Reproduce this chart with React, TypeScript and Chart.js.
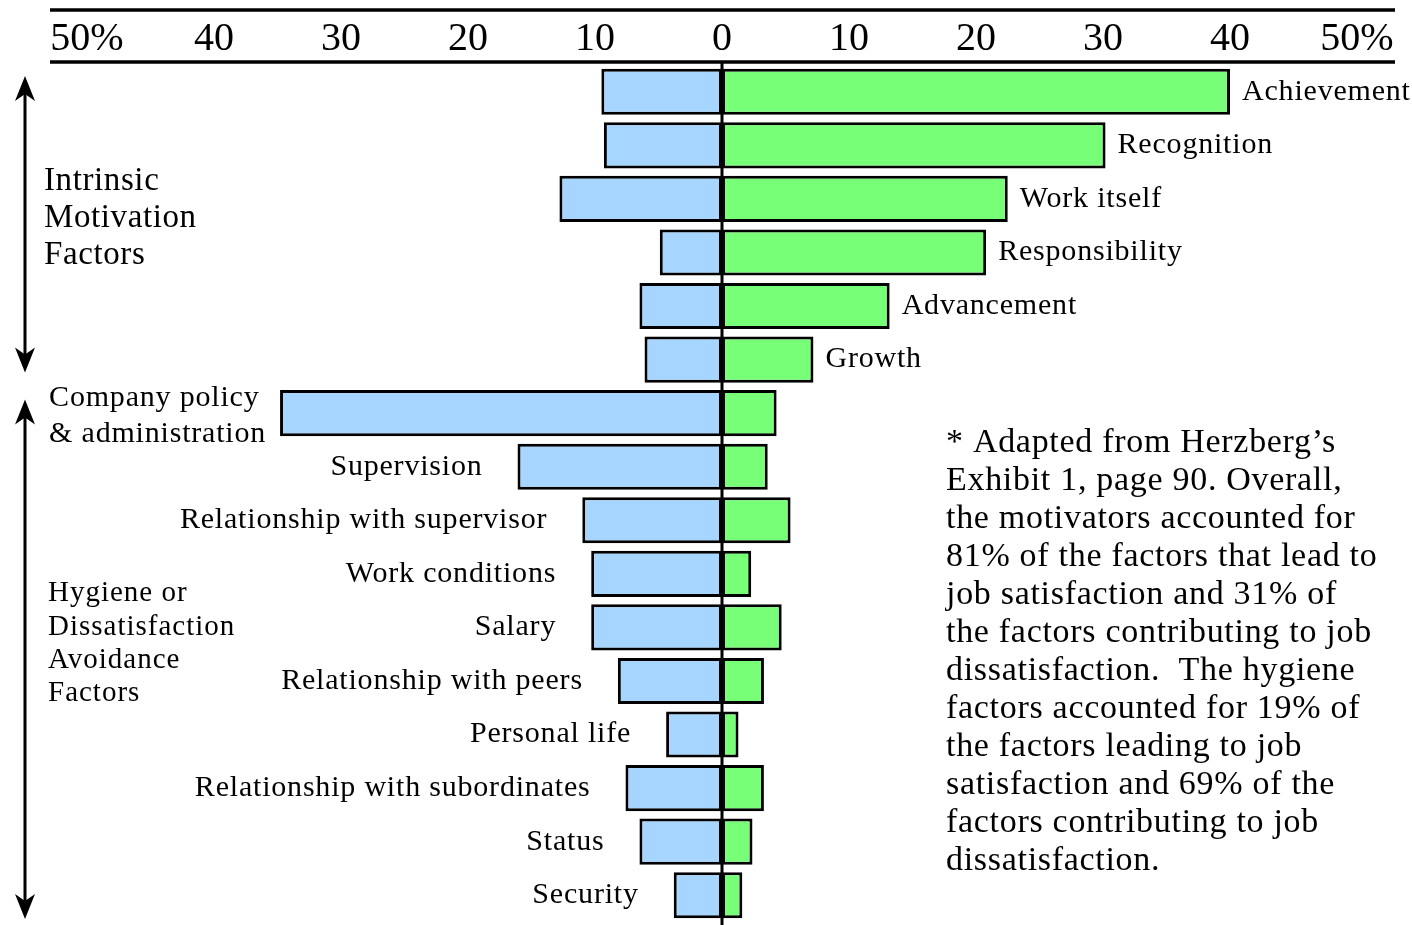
import React, { useEffect, useRef } from 'react';
import { Chart, registerables } from 'chart.js';

Chart.register(...registerables);

// ---------- data ----------
const categories: string[] = [
  'Achievement',
  'Recognition',
  'Work itself',
  'Responsibility',
  'Advancement',
  'Growth',
  'Company policy\n& administration',
  'Supervision',
  'Relationship with supervisor',
  'Work conditions',
  'Salary',
  'Relationship with peers',
  'Personal life',
  'Relationship with subordinates',
  'Status',
  'Security',
];

// % of factors leading to extreme dissatisfaction (drawn to the left)
const dissatisfaction: number[] = [9.5, 9.3, 12.8, 4.9, 6.5, 6.1, 34.8, 16.1, 11.0, 10.3, 10.3, 8.2, 4.4, 7.6, 6.5, 3.8];
// % of factors leading to extreme satisfaction (drawn to the right)
const satisfaction: number[] = [40.0, 30.2, 22.5, 20.8, 13.2, 7.2, 4.3, 3.6, 5.4, 2.3, 4.7, 3.3, 1.3, 3.3, 2.4, 1.6];

const motivatorCount = 6;
const intrinsicGroupLabel: string[] = ['Intrinsic', 'Motivation', 'Factors'];
const hygieneGroupLabel: string[] = ['Hygiene or', 'Dissatisfaction', 'Avoidance', 'Factors'];

const footnoteLines: string[] = [
  '* Adapted from Herzberg\u2019s',
  'Exhibit 1, page 90. Overall,',
  'the motivators accounted for',
  '81% of the factors that lead to',
  'job satisfaction and 31% of',
  'the factors contributing to job',
  'dissatisfaction.  The hygiene',
  'factors accounted for 19% of',
  'the factors leading to job',
  'satisfaction and 69% of the',
  'factors contributing to job',
  'dissatisfaction.',
];

const axisMin = -50;
const axisMax = 50;
const axisStep = 10;

// ---------- styling ----------
const SERIF = '"Liberation Serif", "Times New Roman", Times, serif';
const BLUE = '#A6D5FF';
const GREEN = '#77FF77';

function setFont(ctx: CanvasRenderingContext2D, size: number, spacing: number) {
  ctx.font = `${size}px ${SERIF}`;
  try {
    (ctx as any).letterSpacing = `${spacing}px`;
  } catch (e) {
    /* ignore */
  }
}

function drawLine(ctx: CanvasRenderingContext2D, x1: number, y1: number, x2: number, y2: number) {
  ctx.beginPath();
  ctx.moveTo(x1, y1);
  ctx.lineTo(x2, y2);
  ctx.stroke();
}

function drawHead(ctx: CanvasRenderingContext2D, x: number, tipY: number, dir: number) {
  ctx.beginPath();
  ctx.moveTo(x, tipY);
  ctx.lineTo(x - 10, tipY + dir * 25);
  ctx.lineTo(x, tipY + dir * 18);
  ctx.lineTo(x + 10, tipY + dir * 25);
  ctx.closePath();
  ctx.fill();
}

function drawDoubleArrow(ctx: CanvasRenderingContext2D, x: number, yTop: number, yBottom: number) {
  ctx.lineWidth = 3;
  drawLine(ctx, x, yTop + 15, x, yBottom - 15);
  drawHead(ctx, x, yTop, 1);
  drawHead(ctx, x, yBottom, -1);
}

const decorations = {
  id: 'decorations',
  afterDatasetsDraw(chart: any) {
    const { ctx, chartArea, scales } = chart;
    const xs = scales.x;
    const ys = scales.y;
    const x0 = xs.getPixelForValue(0);
    const xL = xs.getPixelForValue(axisMin);
    const xR = xs.getPixelForValue(axisMax);
    const slot = (chartArea.bottom - chartArea.top) / categories.length;

    ctx.save();
    ctx.strokeStyle = '#000';
    ctx.fillStyle = '#000';

    ctx.lineWidth = 3.5;
    drawLine(ctx, xL - 37, 10, xR + 38, 10);
    drawLine(ctx, xL - 37, chartArea.top - 3, xR + 38, chartArea.top - 3);

    ctx.lineWidth = 3;
    drawLine(ctx, x0, chartArea.top - 3, x0, chart.height);

    const blue = chart.getDatasetMeta(0).data;
    const green = chart.getDatasetMeta(1).data;
    setFont(ctx, 30, 0.8);
    ctx.textBaseline = 'middle';
    categories.forEach((cat, i) => {
      const y = ys.getPixelForValue(i);
      const lines = cat.split('\n');
      if (i < motivatorCount) {
        ctx.textAlign = 'left';
        ctx.fillText(cat, green[i].x + 12, y);
      } else if (lines.length > 1) {
        const w = Math.max(...lines.map((l) => ctx.measureText(l).width));
        const left = blue[i].x - 14 - w;
        ctx.textAlign = 'left';
        const lh = 36;
        lines.forEach((l, k) => {
          ctx.fillText(l, left, y + 3 + (k - (lines.length - 1) / 2) * lh);
        });
      } else {
        ctx.textAlign = 'right';
        ctx.fillText(cat, blue[i].x - 35, y);
      }
    });

    const g1Top = chartArea.top;
    const g1Bottom = chartArea.top + slot * motivatorCount;
    const g2Top = g1Bottom;
    const g2Bottom = chartArea.bottom;
    drawDoubleArrow(ctx, 25, g1Top + 11, g1Bottom - 14);
    drawDoubleArrow(ctx, 25, g2Top + 13, g2Bottom - 3);

    ctx.textAlign = 'left';
    ctx.textBaseline = 'alphabetic';
    setFont(ctx, 33, 0.6);
    const c1 = (g1Top + g1Bottom) / 2;
    intrinsicGroupLabel.forEach((l, k) => {
      ctx.fillText(l, 44, c1 + 1 + (k - (intrinsicGroupLabel.length - 1) / 2) * 37);
    });
    setFont(ctx, 29, 1);
    const c2 = (g2Top + g2Bottom) / 2;
    hygieneGroupLabel.forEach((l, k) => {
      ctx.fillText(l, 48, c2 - 3 + (k - (hygieneGroupLabel.length - 1) / 2) * 33.3);
    });

    setFont(ctx, 34, 0.7);
    footnoteLines.forEach((l, k) => {
      ctx.fillText(l, x0 + 224, 452 + k * 38);
    });

    ctx.restore();
  },
};

export default function App() {
  const canvasRef = useRef<HTMLCanvasElement | null>(null);

  useEffect(() => {
    document.body.style.margin = '0';
    document.body.style.overflow = 'hidden';
    const canvas = canvasRef.current;
    if (!canvas) return;
    let chart: Chart | null = null;
    let cancelled = false;

    const build = () => {
      if (cancelled || chart) return;
      chart = new Chart(canvas, {
        type: 'bar',
        data: {
          labels: categories,
          datasets: [
            {
              label: 'Dissatisfaction',
              data: dissatisfaction.map((v) => -v),
              backgroundColor: BLUE,
              borderColor: '#000',
              borderWidth: 3,
              borderSkipped: false,
              barPercentage: 0.86,
              categoryPercentage: 1,
            },
            {
              label: 'Satisfaction',
              data: satisfaction,
              backgroundColor: GREEN,
              borderColor: '#000',
              borderWidth: 3,
              borderSkipped: false,
              barPercentage: 0.86,
              categoryPercentage: 1,
            },
          ],
        },
        options: {
          indexAxis: 'y',
          responsive: false,
          animation: false,
          devicePixelRatio: 1,
          layout: { padding: { left: 87, right: 55, top: 13, bottom: 3 } },
          scales: {
            x: {
              position: 'top',
              min: axisMin,
              max: axisMax,
              stacked: true,
              grid: { display: false, drawTicks: false },
              border: { display: false },
              ticks: {
                stepSize: axisStep,
                padding: 2,
                color: '#000',
                font: { family: SERIF, size: 40 },
                callback: (v: any) => {
                  const a = Math.abs(Number(v));
                  return a === axisMax ? `${a}%` : `${a}`;
                },
              },
            },
            y: { stacked: true, display: false },
          },
          plugins: {
            legend: { display: false },
            tooltip: { enabled: false },
          },
        },
        plugins: [decorations],
      } as any);
    };

    const fonts: any = (document as any).fonts;
    if (fonts && fonts.load) {
      Promise.all([
        fonts.load('30px "Liberation Serif"'),
        fonts.load('40px "Liberation Serif"'),
      ])
        .catch(() => null)
        .then(() => build());
      setTimeout(build, 1500);
    } else {
      build();
    }

    return () => {
      cancelled = true;
      if (chart) chart.destroy();
    };
  }, []);

  return (
    <div style={{ width: 1412, height: 925, background: '#fff' }}>
      <canvas ref={canvasRef} width={1412} height={925} style={{ display: 'block' }} />
    </div>
  );
}
